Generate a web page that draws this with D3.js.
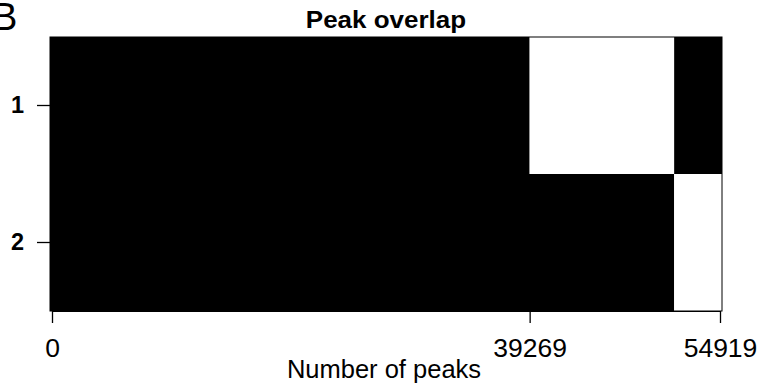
<!DOCTYPE html>
<html>
<head>
<meta charset="utf-8">
<script src="https://cdn.jsdelivr.net/npm/d3@7"></script>
<style>
  html, body { margin: 0; padding: 0; background: #fff; }
  svg { display: block; font-family: "Liberation Sans", Arial, Helvetica, sans-serif; }
</style>
</head>
<body>
<div id="chart"></div>
<script>
// ---- data ----
const rows = ["1", "2"];
const totalPeaks = 54919;
const tickValues = [0, 39269, 54919];
// segments per row: [start, end, present(1)/absent(0)]
const row1Segments = [[0, 39269, 1], [39269, 51150, 0], [51150, 54919, 1]];
const row2Segments = [[0, 51150, 1], [51150, 54919, 0]];
const titleText = "Peak overlap";
const xLabel = "Number of peaks";
const panelLabel = "B";

// ---- layout ----
const W = 760, H = 384;
const box = { left: 50, right: 722, top: 37, bottom: 311 };

const svg = d3.select("#chart").append("svg")
  .attr("width", W).attr("height", H);

const x = d3.scaleLinear().domain([0, totalPeaks]).range([52, 720]);
const y = d3.scaleBand().domain(rows).range([box.top, box.bottom]).padding(0);

const segData = [
  ...row1Segments.map(s => ({ row: "1", s })),
  ...row2Segments.map(s => ({ row: "2", s }))
];

const x0 = d => d.s[0] === 0 ? box.left : x(d.s[0]);
const x1 = d => d.s[1] === totalPeaks ? box.right : x(d.s[1]);
svg.append("g").selectAll("rect")
  .data(segData)
  .join("rect")
  .attr("x", x0)
  .attr("width", d => x1(d) - x0(d))
  .attr("y", d => y(d.row))
  .attr("height", y.bandwidth())
  .attr("fill", d => d.s[2] ? "#000" : "#fff");

// plot box
svg.append("rect")
  .attr("x", box.left).attr("y", box.top)
  .attr("width", box.right - box.left).attr("height", box.bottom - box.top)
  .attr("fill", "none").attr("stroke", "#000").attr("stroke-width", 1);

// x axis
const xAxis = svg.append("g")
  .attr("transform", `translate(0,${box.bottom})`)
  .call(d3.axisBottom(x).tickValues(tickValues).tickFormat(d3.format("d"))
    .tickSize(12).tickSizeOuter(0).tickPadding(15));
xAxis.select(".domain").attr("stroke", "#000");
xAxis.selectAll(".tick line").attr("stroke", "#000").attr("stroke-width", 1.3);
xAxis.selectAll(".tick text")
  .attr("font-size", 26.5).attr("fill", "#000")
  .attr("font-family", "Liberation Sans, Arial, sans-serif");

// y axis
const yAxis = svg.append("g")
  .attr("transform", `translate(${box.left},0)`)
  .call(d3.axisLeft(y).tickSize(13).tickSizeOuter(0).tickPadding(13));
yAxis.select(".domain").remove();
yAxis.selectAll(".tick line").attr("stroke", "#000").attr("stroke-width", 1.3);
yAxis.selectAll(".tick text")
  .attr("font-size", 23.5).attr("font-weight", "bold").attr("fill", "#000")
  .attr("font-family", "Liberation Sans, Arial, sans-serif");

// title
svg.append("text")
  .attr("transform", `translate(${(box.left + box.right) / 2},28) scale(1.13,1)`)
  .attr("text-anchor", "middle")
  .attr("font-size", 23).attr("font-weight", "bold")
  .text(titleText);

// x label
svg.append("text")
  .attr("x", (box.left + box.right) / 2 - 2).attr("y", 378)
  .attr("text-anchor", "middle")
  .attr("font-size", 25.5)
  .text(xLabel);

// panel label (partially cut off at the left edge, as in the reference)
svg.append("text")
  .attr("x", -8).attr("y", 30)
  .attr("font-size", 38)
  .text(panelLabel);
</script>
</body>
</html>
